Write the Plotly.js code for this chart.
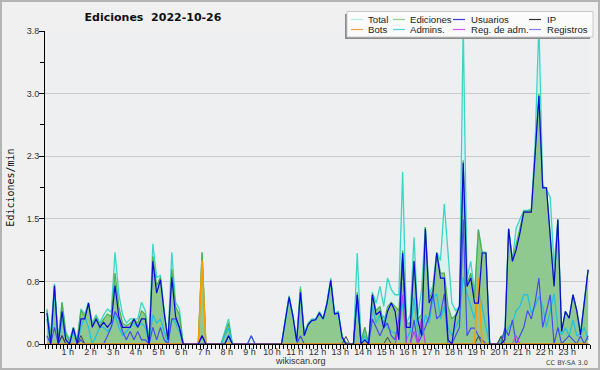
<!DOCTYPE html>
<html><head><meta charset="utf-8">
<script src="https://cdn.plot.ly/plotly-3.0.1.min.js"></script>
<style>
html,body{margin:0;padding:0;background:#f0f0f0}
#wrap{position:relative;width:600px;height:370px}
#chart{width:600px;height:370px}
#frame{position:absolute;left:0;top:0;width:600px;height:370px;box-sizing:border-box;border:2px solid #b4b4b4;pointer-events:none}
</style>
</head><body><div id="wrap"><div id="chart"></div><div id="frame"></div></div>
<script>
// 10-minute samples, one row per hour (edits per minute)
const total = [
0.42,0.10,0.72,0.05,0.50,0.15,
0.05,0.20,0.05,0.42,0.36,0.50,
0.25,0.35,0.25,0.35,0.42,0.38,
1.10,0.60,0.35,0.25,0.30,0.30,
0.30,0.50,0.40,0.05,1.20,0.80,
0.82,0.40,0.05,1.10,0.50,0.42,
0,0,0,0,0,1.10,
0,0,0,0,0,0.15,
0.30,0,0,0,0,0,
0.10,0,0,0,0,0,
0,0,0,0.30,0.58,0.35,
0.05,0.69,0.12,0.25,0.30,0.30,
0.39,0.31,0.50,0.79,0.37,0.39,
0.09,0.02,0,0,1.09,0.05,
0.20,0,0.62,0.49,0.69,0.45,
0.79,0.65,0.59,0.59,2.06,0.25,
0.35,1.28,0.33,0.65,1.40,0.60,
0.70,1.10,1.00,1.68,1.05,0.49,
0.40,0.45,3.85,0.79,0.99,0.60,
1.37,1.10,1.10,0,0,0,
0.09,0.12,1.38,1.00,1.39,1.50,
1.60,1.60,1.62,2.40,3.85,1.90,
1.85,1.76,0.93,1.49,0.15,0.39,
0.31,0.59,0.40,0.15,0.50,0.89];

const ediciones = [
0.40,0.08,0.70,0.03,0.50,0.12,
0.03,0.20,0.03,0.40,0.33,0.49,
0.22,0.32,0.22,0.30,0.36,0.33,
0.85,0.45,0.25,0.22,0.25,0.30,
0.25,0.40,0.35,0.03,1.05,0.70,
0.80,0.38,0.05,0.90,0.45,0.35,
0,0,0,0,0,1.10,
0,0,0,0,0,0.12,
0.25,0,0,0,0,0,
0,0,0,0,0,0,
0,0,0,0.29,0.57,0.34,
0.04,0.66,0.11,0.24,0.29,0.29,
0.38,0.30,0.49,0.77,0.36,0.38,
0.09,0.02,0,0,0.62,0.02,
0.20,0,0.60,0.40,0.45,0.25,
0.45,0.50,0.45,0.40,1.12,0.25,
0.25,1.00,0.30,0.35,1.40,0.55,
0.65,1.10,0.85,0.85,0.45,0.30,
0.35,0.45,2.20,0.72,0.85,0.55,
1.37,1.09,1.09,0,0,0,
0.09,0.10,1.38,1.00,1.20,1.40,
1.59,1.59,1.60,2.30,3.00,1.88,
1.87,1.30,0.72,1.49,0.15,0.39,
0.31,0.59,0.40,0.12,0.50,0.89];

const usuarios = [
0.37,0.00,0.70,0.00,0.39,0.05,
0.00,0.19,0.00,0.30,0.30,0.49,
0.20,0.30,0.20,0.26,0.20,0.26,
0.70,0.33,0.20,0.20,0.20,0.30,
0.20,0.30,0.30,0.00,0.99,0.61,
0.77,0.37,0.05,0.80,0.33,0.20,
0,0,0,0,0,0.10,
0,0,0,0,0,0,
0.10,0,0,0,0,0,
0,0,0,0,0,0,
0,0,0,0.28,0.56,0.33,
0.03,0.62,0.10,0.23,0.28,0.29,
0.37,0.30,0.48,0.76,0.36,0.37,
0.08,0,0,0,0.59,0,
0.05,0,0.59,0.35,0.39,0.19,
0.39,0.49,0.39,0.05,1.09,0.20,
0.20,0.99,0.29,0.10,1.38,0.49,
0.60,1.09,0.79,0.79,0.05,0.00,
0.33,0.45,2.17,0.69,0.79,0.49,
0.49,1.09,1.09,0,0,0,
0,0.05,1.38,0.99,1.13,1.33,
1.58,1.58,1.58,2.27,2.97,1.87,
1.87,1.28,0.69,1.49,0.15,0.39,
0.31,0.59,0.40,0.11,0.50,0.89];

const ip = [
0,0,0,0,0.10,0,
0,0,0,0.10,0,0,
0,0,0,0,0,0,
0,0,0,0,0,0,
0,0,0,0,0,0,
0,0,0,0,0,0,
0,0,0,0,0,0,
0,0,0,0,0,0,
0,0,0,0,0,0,
0,0,0,0,0,0,
0,0,0,0,0,0,
0,0,0,0,0,0,
0,0,0,0,0,0,
0,0.09,0,0,0,0,
0,0,0,0,0,0,
0.08,0,0,0,0,0,
0,0,0,0,0,0,
0,0,0,0,0,0,
0,0,0,0,0,0,
0.09,0,0,0,0,0,
0.09,0,0,0,0,0,
0,0,0,0,0,0,
0,0,0,0,0,0,
0,0,0,0,0,0];

const bots = [
0,0,0,0,0,0, 0,0,0,0,0,0, 0,0,0,0,0,0, 0,0,0,0,0,0,
0,0,0,0,0,0, 0,0,0,0,0,0, 0,0,0,0,0,1.00, 0,0,0,0,0,0,
0,0,0,0,0,0, 0,0,0,0,0,0, 0,0,0,0,0,0, 0,0,0,0,0,0,
0,0,0,0,0,0, 0,0,0,0,0,0, 0,0,0,0,0,0, 0,0,0,0,0,0,
0,0,0,0,0,0, 0,0,0,0,0,0, 0,0,0,0,0,0, 0.79,0,0,0,0,0,
0,0,0,0,0,0, 0,0,0,0,0,0, 0,0,0,0,0,0, 0,0,0,0,0,0];

const admins = [
0.30,0.00,0.62,0.00,0.30,0.05,
0.00,0.15,0.00,0.20,0.33,0.20,
0.00,0.10,0.20,0.20,0.15,0.20,
0.35,0.20,0.10,0.15,0.20,0.25,
0.20,0.25,0.20,0.00,0.35,0.25,
0.30,0.15,0.00,0.30,0.25,0.15,
0,0,0,0,0,0,
0,0,0,0,0,0.10,
0.19,0,0,0,0,0,
0,0,0,0,0,0,
0,0,0,0.28,0.56,0.33,
0.03,0.62,0.10,0.23,0.28,0.29,
0.37,0.30,0.48,0.76,0.36,0.37,
0.08,0,0,0,0.55,0.02,
0.10,0,0.45,0.25,0.35,0.33,
0.20,0.15,0.13,0.13,0.49,0.05,
0.15,0.55,0.15,0.10,0.35,0.25,
0.55,0.60,0.30,0.45,0.20,0.10,
0.20,0.30,0.80,0.60,0.45,0.30,
0.65,0.45,0.20,0,0,0,
0.05,0.10,0.20,0.25,0.40,0.45,
0.59,0.59,0.37,0.45,0.57,0.45,
0.20,0.40,0.60,0.20,0.11,0.19,
0.10,0.29,0.10,0.12,0.20,0.05];

const regAdm = [
0,0,0,0,0,0, 0,0,0,0,0,0, 0,0,0,0,0,0, 0,0,0,0,0,0,
0,0,0,0,0,0, 0,0,0,0,0,0, 0,0,0,0,0,0, 0,0,0,0,0,0,
0,0,0,0,0,0, 0,0,0,0,0,0, 0,0,0,0,0,0, 0,0,0,0,0,0,
0,0,0,0,0,0, 0,0,0,0,0,0, 0,0,0,0,0,0, 0,0,0,0.20,0.59,0,
0,0.15,0,0.30,0,0, 0,0,0,0,0,0, 0,0,0,0,0,0, 0,0,0,0,0,0,
0,0,0,0,0.10,0, 0,0,0,0,0,0, 0,0,0,0,0,0, 0,0,0,0,0,0];

const registros = [
0.10,0,0.20,0,0.10,0,
0,0,0,0.05,0,0,
0,0,0,0,0.10,0.20,
0.39,0.30,0.15,0.05,0.15,0.05,
0.15,0.05,0.05,0,0.20,0.05,
0.20,0.05,0,0.30,0.30,0.20,
0,0,0,0,0,0.10,
0,0,0,0,0,0,
0.10,0,0,0,0,0,
0.10,0,0,0,0,0,
0,0,0,0,0,0,
0,0.10,0,0,0,0,
0,0,0,0,0,0,
0,0,0,0,0.59,0,
0,0,0.30,0.20,0.10,0.20,
0.25,0.10,0.05,0.30,0.97,0,
0,0.29,0,0.10,0.20,0.33,
0.60,0.30,0.35,0.60,0,0,
0.10,0.20,1.49,0.10,0.19,0.19,
0.10,0.05,0,0,0,0,
0,0.19,0.10,0.29,0,0.10,
0.20,0.40,0.30,0.50,0.79,0.20,
0.40,0.59,0,0.20,0,0.05,
0.10,0.05,0,0.10,0,0.10];

const hourTicks = [1,2,3,4,5,6,7,8,9,10,11,12,13,14,15,16,17,18,19,20,21,22,23];
const hourLabels = hourTicks.map(h => h + ' h');
const yTickVals = [0, 0.75, 1.5, 2.25, 3.0, 3.75];
const yTickText = ['0.0', '0.8', '1.5', '2.3', '3.0', '3.8'];

const legendItems = [
  {name: 'Total', color: '#aeeee6'},
  {name: 'Ediciones', color: '#8fd08f'},
  {name: 'Usuarios', color: '#3a3ae0'},
  {name: 'IP', color: '#333333'},
  {name: 'Bots', color: '#f5a040'},
  {name: 'Admins.', color: '#50d0e0'},
  {name: 'Reg. de adm.', color: '#d850ee'},
  {name: 'Registros', color: '#8080f0'}
];

const step = 1/6, start = 1/12;
function tr(y, name, color, width, extra) {
  return Object.assign({type: 'scatter', mode: 'lines', x0: start, dx: step, y: y, name: name,
    line: {color: color, width: width}, hoverinfo: 'skip'}, extra || {});
}
const data = [
  tr(total, 'Total', '#3cd6c6', 1.3, {fill: 'tozeroy', fillcolor: '#dcf1ed'}),
  tr(ediciones, 'Ediciones', '#4cb04c', 1.2, {fill: 'tozeroy', fillcolor: '#90c990'}),
  tr(admins, 'Admins.', '#22c2e0', 1.3),
  tr(registros, 'Registros', '#4a4af2', 1.2),
  tr(regAdm, 'Reg. de adm.', '#c040e0', 1.2),
  tr(ip, 'IP', '#404040', 1.0),
  tr(bots, 'Bots', '#ff9a00', 1.6),
  tr(usuarios, 'Usuarios', '#0a0ad8', 1.2)
];

// plot area in pixels: x 45..590, y 31..344
const PL = 45, PW = 545, PB = 344, PH = 313;
const px = x => (x - PL) / PW;
const py = y => (PB - y) / PH;

const shapes = [];
const annotations = [];
// legend shadow + box
shapes.push({type: 'rect', xref: 'paper', yref: 'paper', x0: px(345), x1: px(590), y0: py(39), y1: py(14), fillcolor: '#8a8a8a', line: {width: 0}});
shapes.push({type: 'rect', xref: 'paper', yref: 'paper', x0: px(347), x1: px(593), y0: py(37), y1: py(11.5), fillcolor: '#fbfbfb', line: {color: '#c8c8c8', width: 1}});
const colLine = [351, 393, 453, 529];
const colText = [366, 408, 469, 545];
const rowY = [19.5, 29.5];
legendItems.forEach((it, k) => {
  const c = k % 4, r = Math.floor(k / 4);
  shapes.push({type: 'line', xref: 'paper', yref: 'paper', x0: px(colLine[c]), x1: px(colLine[c] + 12), y0: py(rowY[r]), y1: py(rowY[r]), line: {color: it.color, width: 1.2}});
  annotations.push({xref: 'paper', yref: 'paper', x: px(colText[c]), y: py(rowY[r]), xanchor: 'left', yanchor: 'middle', showarrow: false, text: it.name, font: {family: 'Liberation Sans, Arial, sans-serif', size: 9.6, color: '#222'}});
});
annotations.push({xref: 'paper', yref: 'paper', x: px(300), y: py(361), xanchor: 'center', yanchor: 'middle', showarrow: false, text: 'wikiscan.org', font: {family: 'Liberation Sans, Arial, sans-serif', size: 9, color: '#333'}});
annotations.push({xref: 'paper', yref: 'paper', x: px(590), y: py(363), xanchor: 'right', yanchor: 'middle', showarrow: false, text: 'CC BY-SA 3.0', font: {family: 'DejaVu Sans', size: 6.5, color: '#444'}});

const tickFont = {family: 'Liberation Sans, Arial, sans-serif', size: 9, color: '#333'};

const layout = {
  width: 600, height: 370,
  margin: {l: 45, r: 10, t: 31, b: 26, pad: 0},
  paper_bgcolor: '#f0f0f0',
  plot_bgcolor: '#edeff1',
  showlegend: false,
  title: {text: 'Ediciones&nbsp; 2022-10-26', x: 153/600, xanchor: 'center', xref: 'container', y: 1 - 17/370, yanchor: 'middle', yref: 'container',
          font: {family: 'DejaVu Sans', size: 11, weight: 'bold', color: '#111'}},
  xaxis: {range: [0, 24], showgrid: false, zeroline: false, showline: true, linecolor: '#000', linewidth: 1,
          tickmode: 'array', tickvals: hourTicks, ticktext: hourLabels, ticks: 'outside', ticklen: 4, tickcolor: '#000', tickwidth: 1,
          ticklabelstandoff: -5,
          minor: {tickmode: 'linear', tick0: 0, dtick: 1/6, ticks: 'outside', ticklen: 4, tickcolor: '#000', tickwidth: 1},
          tickfont: tickFont, fixedrange: true},
  yaxis: {range: [0, 3.75], showgrid: true, gridcolor: '#c9c9c9', gridwidth: 1, zeroline: false, showline: true, linecolor: '#000', linewidth: 1,
          tickmode: 'array', tickvals: yTickVals, ticktext: yTickText, ticks: 'outside', ticklen: 5, tickcolor: '#000', tickwidth: 1,
          ticklabelstandoff: -2,
          minor: {tickmode: 'linear', tick0: 0, dtick: 0.375, ticks: 'outside', ticklen: 4, tickcolor: '#000', tickwidth: 1, showgrid: false},
          tickfont: tickFont, fixedrange: true,
          title: {text: 'Ediciones/min', standoff: 10, font: {family: 'DejaVu Sans Mono', size: 10, color: '#111'}}},
  shapes: shapes,
  annotations: annotations
};

Plotly.newPlot('chart', data, layout, {staticPlot: true, displayModeBar: false});
</script></body></html>
